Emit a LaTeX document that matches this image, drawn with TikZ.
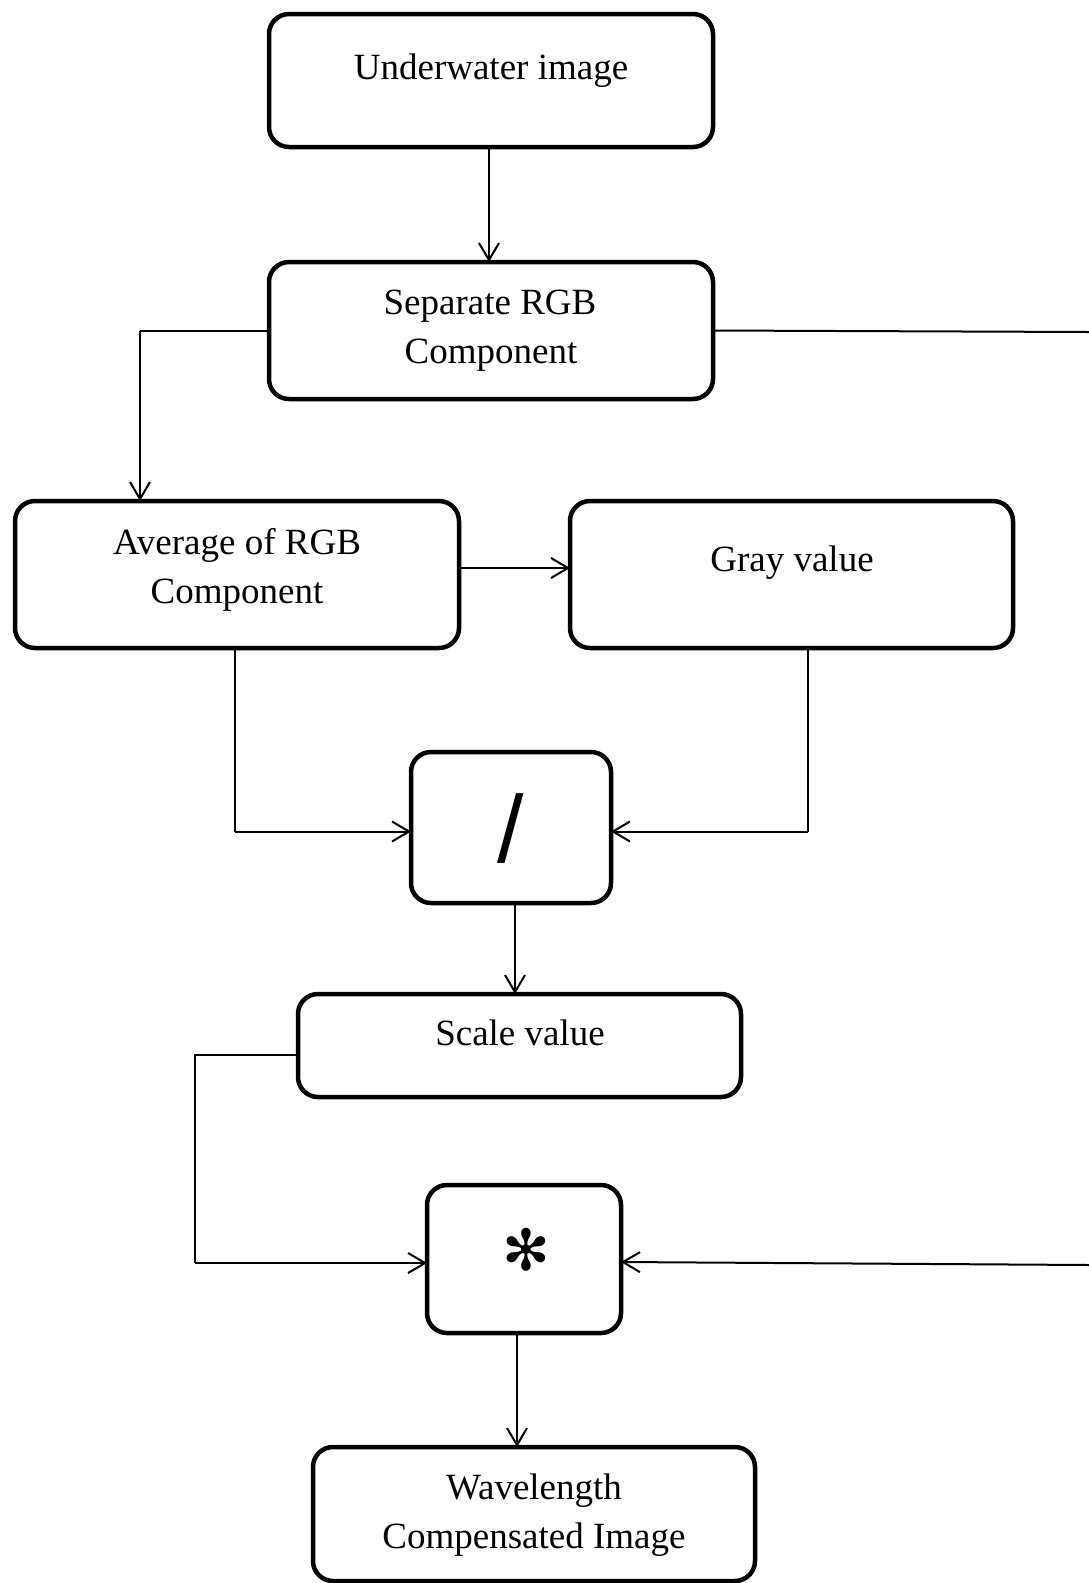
\documentclass[tikz,border=0pt]{standalone}
\usepackage{fontspec}
\setmainfont{Liberation Serif}
\newfontfamily\slashfont{Liberation Sans}
\newfontfamily\symfont{DejaVu Sans}
\usetikzlibrary{arrows.meta}
\begin{document}
\begin{tikzpicture}[x=1pt,y=-1pt,
  block/.style={draw,rectangle,rounded corners=20pt,line width=4.5pt,inner sep=0pt,outer sep=0pt},
  label/.style={inner sep=0pt,anchor=base,font=\fontsize{37}{49}\selectfont},
  link/.style={line width=2pt},
  arr/.style={link,-{Straight Barb[length=17pt,width=20pt]}}]
\useasboundingbox (0,0) rectangle (1089,1583);

% process blocks
\node[block,minimum width=444pt,minimum height=133pt] (b1) at (491,80.5) {};
\node[block,minimum width=444pt,minimum height=137pt] (b2) at (491,330.5) {};
\node[block,minimum width=444pt,minimum height=147pt] (b3) at (237,574.5) {};
\node[block,minimum width=443pt,minimum height=147pt] (b4) at (791.5,574.5) {};
\node[block,minimum width=200pt,minimum height=151pt] (b5) at (511,827.5) {};
\node[block,minimum width=443pt,minimum height=103pt] (b6) at (519.5,1045.5) {};
\node[block,minimum width=194pt,minimum height=148pt] (b7) at (524,1259) {};
\node[block,minimum width=442pt,minimum height=134pt] (b8) at (534,1514) {};

% block texts
\node[label] (t1) at (491,79) {Underwater image};
\node[label] (t2a) at (490,314) {Separate RGB};
\node[label] (t2b) at (491,363) {Component};
\node[label] (t3a) at (237,554) {Average of RGB};
\node[label] (t3b) at (237,603) {Component};
\node[label] (t4) at (792,571) {Gray value};
\node[inner sep=0pt,font=\slashfont\fontsize{95}{95}\selectfont] (op1) at (511,828.5) {/};
\node[label] (t6) at (520,1045) {Scale value};
\node[inner sep=0pt,font=\symfont\fontsize{57}{57}\selectfont] (op2) at (526,1250) {✻};
\node[label] (t8a) at (534,1499) {Wavelength};
\node[label] (t8b) at (534,1548) {Compensated Image};

% free ends at the right border and bends
\coordinate (r1) at (1089,332);
\coordinate (r2) at (1089,1265);
\coordinate (k1) at (140,331);
\coordinate (k2) at (235,831.5);
\coordinate (k3) at (808,831.5);
\coordinate (k4) at (195,1055);
\coordinate (k5) at (195,1263);

% connectors
\draw[arr] ([xshift=-2pt]b1.south) -- ([xshift=-2pt]b2.north);
\draw[link] (b2.west |- k1) -- (k1);
\draw[arr] (k1) -- (k1 |- b3.north);
\draw[link] (b2.east) -- (r1);
\draw[arr] ([yshift=6.5pt]b3.east) -- ([yshift=6.5pt]b4.west);
\draw[link] (k2 |- b3.south) -- (k2);
\draw[arr] (k2) -- (b5.west |- k2);
\draw[link] (k3 |- b4.south) -- (k3);
\draw[arr] (k3) -- (b5.east |- k3);
\draw[arr] ([xshift=4pt]b5.south) -- ([xshift=-4.5pt]b6.north);
\draw[link] (b6.west |- k4) -- (k4) -- (k5);
\draw[arr] (k5) -- (b7.west |- k5);
\draw[arr] (r2) -- ([yshift=-3pt]b7.east);
\draw[arr] ([xshift=-7pt]b7.south) -- ([xshift=-17pt]b8.north);
\end{tikzpicture}
\end{document}
